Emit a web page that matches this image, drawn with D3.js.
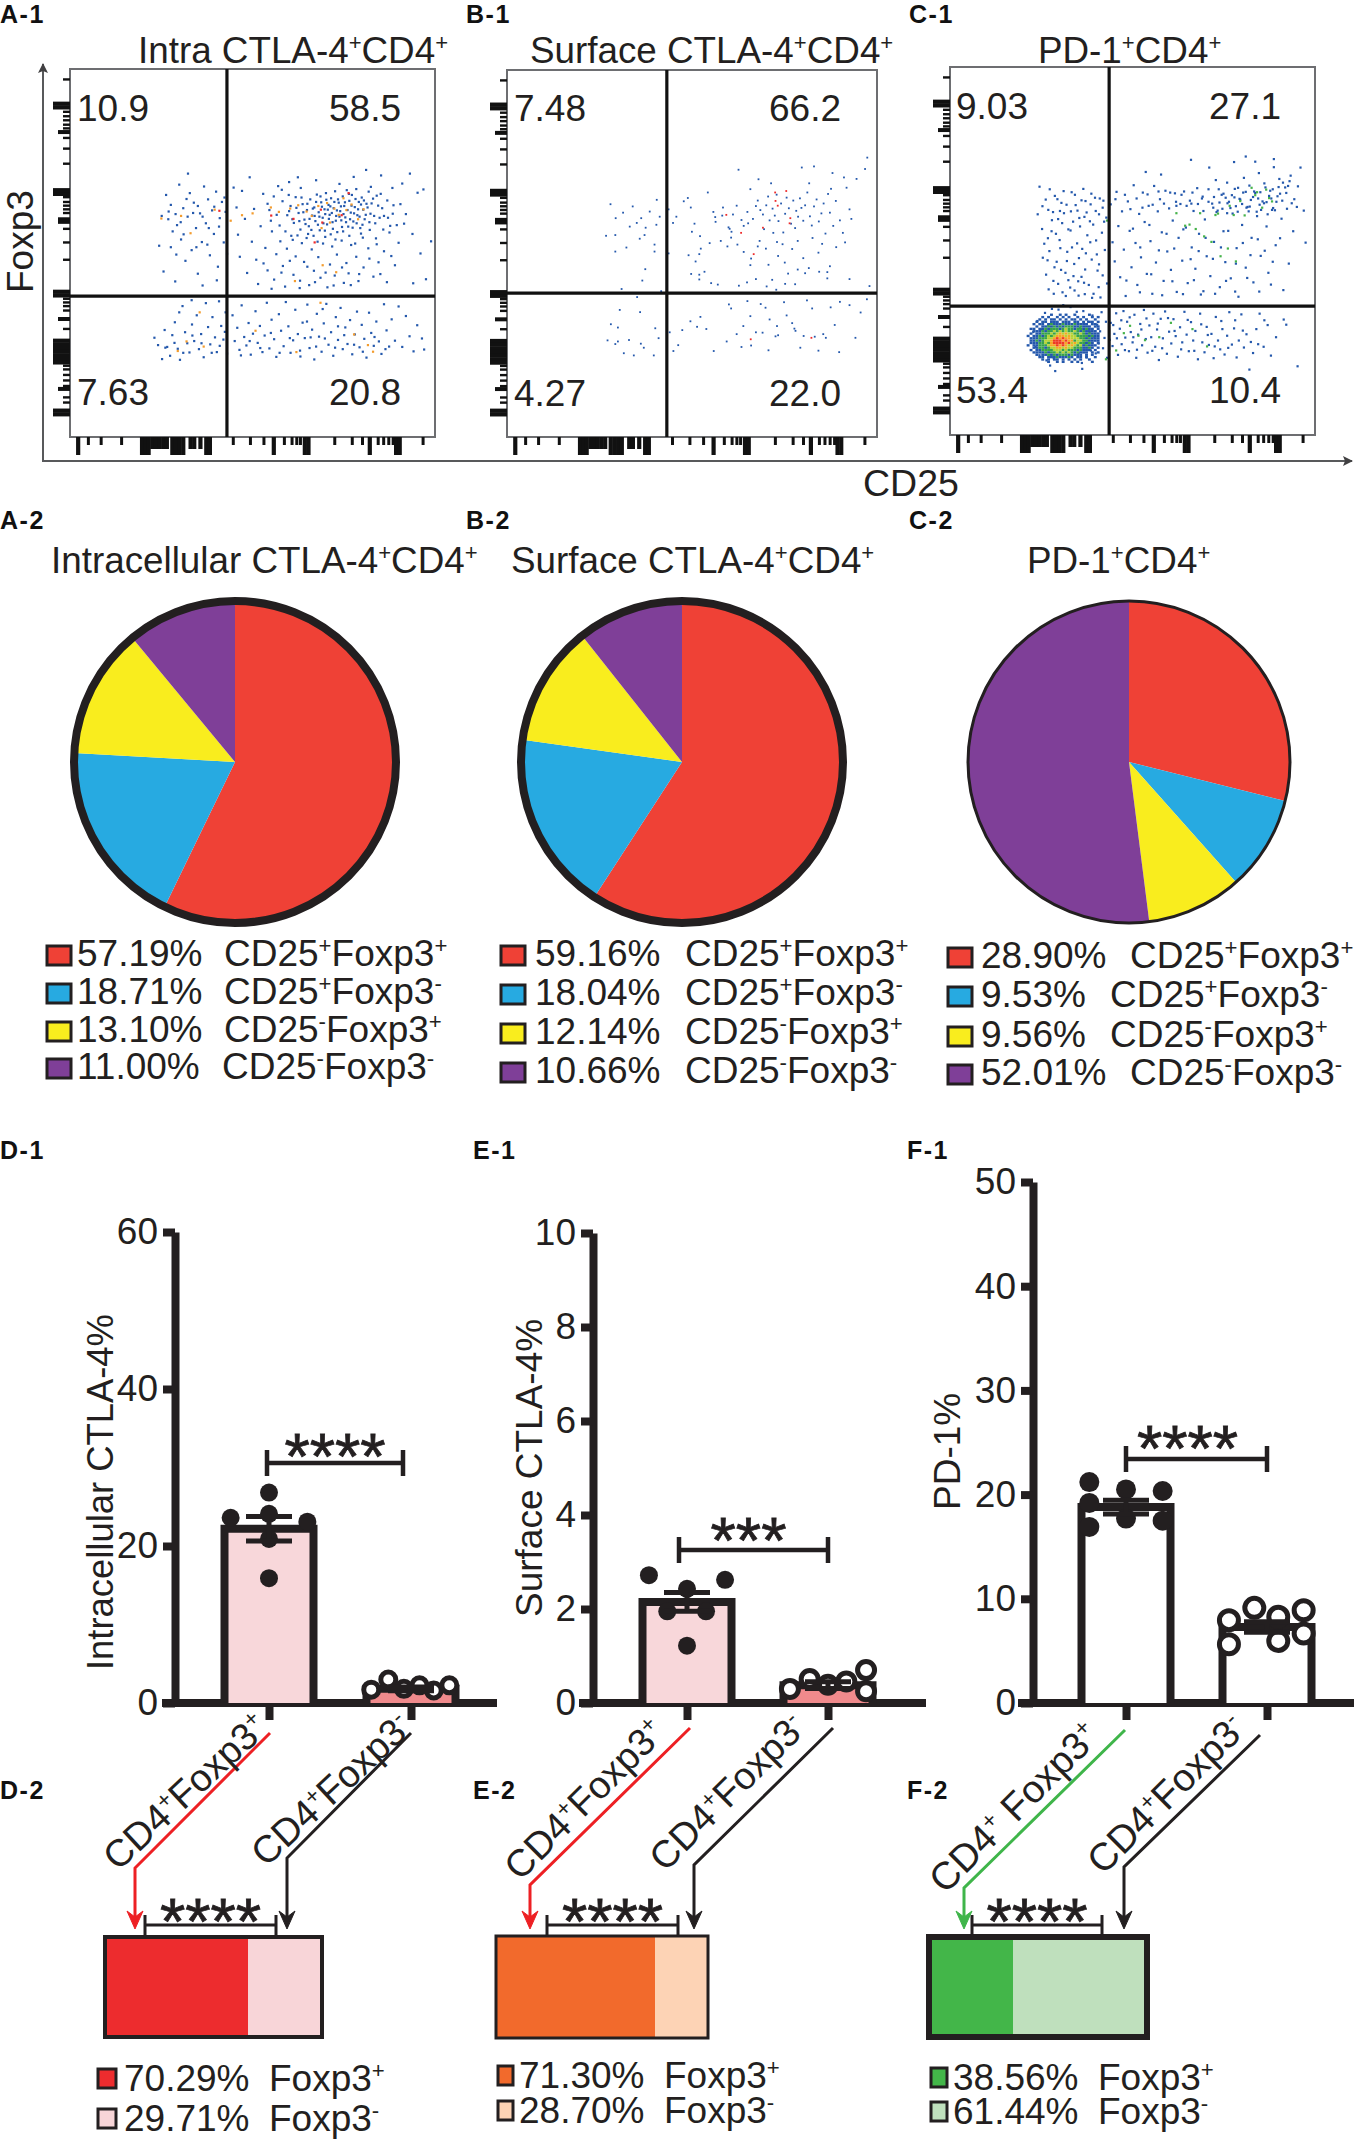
<!DOCTYPE html>
<html lang="en">
<head>
  <meta charset="UTF-8">
  <title>CTLA-4 and PD-1 in CD4 T cells</title>
  <script src="https://cdn.jsdelivr.net/npm/d3@7"></script>
  <style>
    html, body { margin: 0; padding: 0; background: #fff; }
    svg { display: block; }
    text { font-family: "Liberation Sans", Arial, sans-serif; fill: #231f20; }
    .panel-tag { font-weight: bold; font-size: 25px; letter-spacing: 1.5px; fill: #111; }
  </style>
</head>
<body>
  <svg id="figure" width="1358" height="2139"></svg>

  <script>
    // ---- flow plots: rug ticks along both axes (0-100 of the plot box)
    const rugXMajor = [2.1, 19.6, 20.6, 21.4, 27.9, 28.9, 29.9, 30.9, 37.2, 38.2, 55.7, 64.2, 65.2, 82, 89.2, 90.2];
    const rugXMid = [22.4, 23.4, 24.4, 25.4, 26.4, 32.9, 33.9, 35.6];
    const rugXMinor = [4.9, 8.4, 14, 44.6, 49.3, 53, 58.6, 60.7, 62, 63, 72.4, 77.2, 80, 84.3, 85.8, 87.2, 88.4, 96.6];
    const rugYMajor = [89.7, 90.7, 66.2, 67.2, 38.6, 39.6, 26.3, 25.3, 24.3, 23.3, 22.3, 21.3, 20.4, 6.3, 7.3];
    const rugYMid = [83, 59.3, 58.6, 32.2, 13.2];
    const rugYMinor = [97.3, 88.5, 87.3, 86.2, 85, 84, 81.4, 78.5, 74.4, 65.3, 64, 63, 62, 61, 56.7, 53, 48.3, 37.7, 36.7, 35.7, 34.5, 29.5, 19.5, 18.5, 17, 15.5, 14, 10.9, 9.5];

    const intraBlue = [
      [58.2,64.1],[59.5,60.3],[60.4,62.8],[61.3,58.2],[61.8,65.2],[62.6,60.9],[63.1,56.4],[63.7,63.3],[64.2,59.1],[64.9,61.7],[65.4,57.3],[65.8,64.6],[66.3,60.2],[66.9,62.4],[67.2,58.7],[67.6,65.9],[68.1,61.1],[68.4,56.2],[68.8,63.8],[69.2,59.6],[69.7,61.9],[70.1,66.3],[70.4,57.8],[70.8,63.1],[71.1,60.4],[71.5,64.9],[71.9,58.4],[72.2,62.2],[72.6,66.8],[72.9,60.1],[73.2,55.7],[73.6,63.7],[74,61.4],[74.3,58.9],[74.7,65.4],[75.1,62.8],[75.4,59.7],[75.8,67.1],[76.2,57.2],[76.5,64.2],[76.9,61],[77.2,65.8],[77.6,58.6],[78,62.5],[78.4,67.4],[78.7,60.3],[79.1,63.9],[79.5,56.8],[79.9,65.1],[80.3,61.8],[80.7,59.2],[81.2,63.4],[81.8,66.7],[82.3,60.7],[83,64.8],[83.6,58.1],[84.4,62.9],[85.1,66.1],[86,60.1],[86.9,64.3],[87.7,57.4],[88.6,63],
      [44.8,67.8],[45.6,62.4],[46,55],[46.5,49],[47.1,66.9],[47.9,59.3],[48.5,44.6],[49.2,70.6],[49.8,53.1],[50.4,62],[51,48.2],[51.5,41.6],[52.2,57.3],[52.9,66.1],[53.5,51.4],[54.1,45.3],[54.6,61.7],[55.3,55.9],[55.9,42.8],[56.5,49.7],[57,68.2],[57.6,53.2],[58.3,46.5],[58.9,40.9],[59.4,51.2],[60,69.3],[60.6,54.7],[61.2,44.1],[61.8,49.1],[62.4,70.6],[63,42.5],[63.5,52.7],[64.1,47.6],[64.8,54.1],[65.5,41.3],[66.2,51],[66.8,45.2],[67.4,69.8],[68,48.9],[68.6,43.3],[69.3,52.6],[69.9,54.4],[70.5,40.7],[71.2,46.9],[71.8,51.8],[72.5,43.9],[73.1,49.6],[73.8,68.8],[74.4,53.4],[75,41.9],[75.7,47.3],[76.3,44.5],[77,52.2],[77.7,70.7],[78.4,49],[79,42.4],[79.7,55.3],[80.4,46.1],[81.1,72.6],[81.7,51.3],[82.4,68],[83.1,43.6],[83.8,54],[84.5,47.5],[85.2,71.1],[86,50.5],[86.8,42.1],[87.5,55.6],[88.3,67.7],[89,46.7],[90,52.8],[91,68.9],[92,60.6],[93.1,71.6],[94,41.8],[95.2,66.4],[96,49.9],[97.5,42.9],[98.9,53.2],[96.8,67.3],[93.8,55.2],
      [24.4,52],[25.1,60.1],[25.6,45],[26.3,65.8],[26.9,59.2],[27.6,63.1],[28.1,55.9],[28.8,42.3],[29.3,57.6],[29.9,68.6],[30.4,53.7],[31,62.2],[31.6,47.9],[32.2,59.9],[32.8,66.3],[33.3,50.8],[33.9,63.7],[34.5,56.8],[35,44.4],[35.6,60.8],[36.1,53],[36.7,68.1],[37.2,58.1],[37.8,64.6],[38.3,49.4],[38.9,61.6],[39.4,55.2],[40,66.7],[40.5,46.3],[41,59.5],[41.6,63.9],[42.1,52.9],[42.6,61.2],[43,49.8],[32.3,71.6],[29.1,49.6],[36.3,41.2],[40.2,42.6],
      [23.1,27],[24.1,25],[25.2,21.2],[25.9,29.1],[26.6,24.5],[27.4,22.1],[28,27.7],[28.7,31.2],[29.5,24],[30.1,21],[30.8,35.6],[31.5,28.5],[32.1,25.5],[32.7,23],[33.4,30.6],[34,26.1],[34.7,33.1],[35.3,23.9],[35.9,28],[36.6,21.7],[37.2,36.4],[37.8,29.9],[38.4,25.2],[39,32.6],[39.7,27.1],[40.2,23.1],[40.8,36.9],[41.4,30.2],[42,26.5],[42.6,33.9],[43,22.7],[29.9,33.9],[33.3,37.2],
      [44.5,33.1],[45.1,26.1],[45.8,29.7],[46.4,23.7],[47,35.8],[47.7,27.2],[48.3,24.9],[48.9,31],[49.5,22.4],[50.1,28.1],[50.8,34.2],[51.4,25.6],[52,30.2],[52.7,23.1],[53.3,27.6],[53.9,36.5],[54.6,24.1],[55.2,31.9],[55.9,26.6],[56.5,21.8],[57.2,33.4],[57.8,28.9],[58.5,24.7],[59.1,36.7],[59.8,30.1],[60.4,22.9],[61.1,26.3],[61.7,34.6],[62.4,28],[63,23.5],[63.7,31.1],[64.3,26.9],[65,36],[65.6,24.2],[66.3,29.2],[66.9,21.1],[67.6,33.5],[68.2,27.3],[68.9,23.2],[69.5,30.9],[70.2,36.2],[70.8,25.1],[71.5,28.5],[72.1,22.1],[72.8,32.6],[73.4,26.4],[74.1,35.1],[74.7,23.9],[75.4,29.8],[76,25.3],[76.7,31.8],[77.3,22.5],[78,27.9],[78.6,34.1],[79.3,24.4],[79.9,30.5],[80.6,26.7],[81.2,21.6],[81.9,33.8],[82.5,28.3],[83.2,24.8],[83.9,31.4],[84.6,26],[85.3,22.6],[86,36.1],[86.7,29],[87.4,24.6],[88.1,32],[89,26.2],[90,35.5],[91,24.5],[92,32.9],[93,27.4],[94.1,23.3],[95.1,30.4],[96.4,26.8],[97,23.8]
    ];
    const intraBlueDense = [
      [60,61.4],[60.9,59.2],[62,62.3],[62.8,58.7],[63.4,65.1],[63.9,61.1],[64.5,57.9],[65,63.4],[65.6,59.3],[66.1,56.3],[66.5,62.1],[67,60.1],[67.4,63.9],[67.9,57.7],[68.3,59.9],[68.6,65.4],[69,62.6],[69.4,58.1],[69.9,60.6],[70.2,64.5],[70.6,61.8],[70.9,59.3],[71.3,62.7],[71.7,60.9],[72,56.6],[72.4,63.9],[72.8,58.8],[73.1,61.6],[73.4,64.6],[73.8,59.9],[74.2,62.7],[74.5,57.1],[74.9,60.6],[75.3,63.8],[75.6,58.4],[76,61.7],[76.4,66.1],[76.7,59.2],[77.1,62.9],[77.4,56.9],[77.8,60.8],[78.2,64.7],[78.5,58.1],[78.9,61.9],[79.3,59.9],[79.7,63.2],[80.1,57.7],[80.5,64.3],[81,60.4],[81.5,62.4],[82,58.4],[82.6,63.5],[83.3,60.1],[84,65.6],[84.8,59.6],[85.5,62.2],
      [54.1,63.4],[55,58.8],[55.8,65.4],[56.6,60.4],[57.4,57.5],[58,67.2],[59,55.9],[59.9,65.8],[61,53.6],[62.3,54.8],[63.2,67.7],[65.2,55.2],[66.7,54.7],[67.8,53.1],[69.8,56.1],[71.4,55.1],[72.7,53.7],[74.8,55.9],[76.5,54.7],[78.1,52.6],[80.2,54.2],[82.1,56.3],[84,52.4],[85.8,56.4],[87.1,59.6],[88.4,60.7],[89.5,57.6],[90.5,63.3],[91.5,58],[53,47.2],[55.2,40.3],[57.9,44.7],[60.2,47.9],[62.9,40.5],[65,46.3],[67.1,42.1],[70,44.7],[72.2,41.2],[74.5,46.1],[76.9,41.3],[79.2,44.3],[82,48.5],[85,44.3],[88,49.2],
      [27,61.3],[28.9,60.6],[30.3,58.4],[31.9,64.7],[33.7,60.9],[35,62.8],[36.3,59.9],[38,56.8],[39.5,62.6],[40.8,57.2],[42.3,65.1],[27.6,51.6],[31.1,55.1],[34.6,51.6],[37.6,52.3],[26.1,24.3],[28.6,25.6],[31,22.9],[33.5,27.6],[36,25.5],[38.8,22.9],[41,24.8],[42.4,28.6],[46.8,22.2],[49.2,26.1],[52.1,24.2],[55,28.3],[57.4,22.9],[60.2,26.9],[63.1,21.9],[65.9,27.1],[67.4,24.6],[69.8,26.8],[72.6,24.3],[75.1,27.7],[77.8,25.1],[80.2,23.2],[83.4,27.2],[86.4,23.9],[64.9,31.4],[69.2,34.8],[73.4,30.1]
    ];
    const intraOrange = [[25,59.4],[30.4,60.1],[33,55.4],[39.6,61.8],[44,58.8],[47.1,60.3],[50,60.8],[55,62.4],[57.2,61.2],[60.3,62.1],[62.5,63],[64.8,61.3],[66.2,60.1],[68,62.8],[68.9,56.8],[70.4,63.6],[71.2,58.3],[72.4,62.1],[73.6,60.4],[74.9,64.9],[75.7,61.7],[77.1,63.2],[78.9,59.2],[80.4,61.9],[69.2,46.7],[72.9,44.8],[61.6,42.4],[35.5,33.9],[31.9,26],[29.5,23.4],[36.6,24.6],[50.8,28.9],[62,23.1],[68.6,36.5],[77.8,27.9],[81.6,25],[83,23.2]];
    const intraRed = [[40.9,61.5],[55.1,60.2],[68.7,61.8],[69.1,58.3],[67,52.9],[76.3,66.3],[74.4,60.3],[61.2,59.3]];

    const surfaceBlue = [
      [28,63.4],[29.4,59.6],[26.8,54.8],[29.3,55],[29.3,50.5],[32.3,51.6],[33.2,57.3],[34,62.8],[36.3,59.6],[38.6,61.4],[40.5,64.6],[41.3,60],[40.4,57.8],[37.2,55],[35.9,54],[39.9,52.4],[39.9,50.5],[37.4,45.7],[36.6,42.6],[31,40.3],[41.7,39.7],[35.1,58.3],[37.5,57],[31.4,61.1],
      [43.7,62],[43.7,50],[45.8,60],[44.9,58.3],[47.8,64.2],[48.9,65.1],[49.7,62.5],[50.7,58.1],[52.4,51.3],[52,49.8],[53.4,45],[49.1,49.5],[51,47.8],[52,42.9],[54.3,66.6],[55.8,61.3],[56.3,59.9],[56.4,58.6],[58.2,60.3],[58.4,62.5],[59.9,57.1],[60.2,56.7],[60.7,55.9],[61.1,60.6],[62.1,63],[63.4,59.1],[64,57.5],[65,61.3],[65.2,58.2],[66.5,59.4],[67.3,62.9],[67.8,64.4],[68.5,61.8],[69.2,60.6],[69.5,56.6],[70.1,63.1],[70.6,65.5],[71,59],[71.8,62.2],[72.4,60.3],[72.9,66],[73.4,58.8],[74.1,63.6],[74.7,55.7],[75.2,60.8],[75.6,65.2],[76.2,62.3],[76.8,58.1],[77.4,64.4],[77.9,56.9],[78.2,61.6],[78.7,60],[79.2,65],[79.6,62.4],[80.1,58.9],[80.6,63.1],[81.2,66.6],[81.9,60.1],[82.4,57.6],[83,62.8],[83.7,64.7],[84.3,58.7],[85,60.9],[85.6,63.6],[86.1,55.4],[86.8,66.2],[87.3,61.1],[88.2,57.5],[88.9,64.3],[90,59],[90.8,55.6],[91.8,67.9],[92.6,62],[93.1,59.4],
      [62.6,72.8],[65.8,67.5],[68,70.2],[71.4,69.1],[79.7,73.4],[81.7,69.1],[83,73.7],[87.6,67.6],[91.1,70.7],[94.5,70.3],[88,71.9],[96.8,73],[100,68.4],[97.4,76.1],
      [50,55.9],[52.2,54.7],[54.8,52.8],[57.8,53.4],[59.6,51.9],[60.6,54.3],[62.3,52.4],[64,50.4],[65.8,46.8],[66,48.6],[67.8,51.9],[68.3,53.4],[70,51.3],[70.7,46.9],[72,55.6],[73,53.1],[73.3,49.3],[74.5,52.5],[75.1,47.5],[76,44.5],[77.1,51.2],[78.6,53.4],[80.1,48.7],[81.6,46],[82.6,54.2],[84.2,50.2],[85.2,52.6],[86.6,44.9],[87.3,46.5],[89,51.7],[91.4,53],[92.6,43],
      [49.8,44.4],[52,44.2],[55.2,41.9],[57,41.5],[62.7,41.2],[64.9,42.1],[67.3,43],[70.2,41],[71.7,42.8],[72.8,40.1],[75.2,41.7],[77.9,41.6],[78.6,45.6],[80.6,44.6],[84.4,45],[86.6,43.2],[98,41.1],
      [35.2,38.1],[36,34],[30.5,34.6],[30,29.8],[28.1,30.7],[33,26.4],[30,26],[27.2,26.3],[29.3,25.3],[36.2,25.4],[31.6,22.8],[34.3,22.2],[39.7,22.2],[40.1,29.6],[41,26.9],[37,24.3],
      [44,28.5],[45,23.4],[46.3,25],[47.4,29.1],[49.6,31.5],[51.4,30],[52.3,32.7],[53.9,29.4],[55.9,23.4],[59.4,26],[60,36.1],[60.6,35],[62.1,28],[63.4,24.5],[63.9,30.2],[65,37],[65.8,32.9],[66,24.9],[67.3,28.5],[68.6,36.2],[69.1,28.4],[69.9,35.2],[70.7,23.6],[71,32],[72.6,27.4],[73,30.2],[73.3,27.7],[74.9,36.7],[75.6,33.1],[77.1,31],[77.7,29.5],[78,28.9],[79.3,24.3],[80.2,27.5],[81.1,37.2],[82.5,35],[83.2,27.3],[84.2,23.5],[85.5,28],[86.2,27],[87.5,35.3],[88.6,30.5],[89.8,23.1],[90,36.8],[92.6,35.9],[94.2,27],[95.6,33.9],[97.3,37.5]
    ];
    const surfaceRed = [[72.5,66.6],[72.6,64.3],[73.2,63],[75.5,67],[76.6,59.6],[63.3,55.6],[69.2,57],[66.7,49.8],[65.9,26.6],[82.3,27],[59.3,60.5],[76.4,58.2]];

    const pdBlue = [
      [24,60],[24.5,67.5],[25.2,56],[25.8,52],[26.3,43.6],[26.9,61.2],[27.2,50],[27.8,55.4],[28.3,41.9],[28.7,65],[29.2,47.1],[29.6,58.7],[30,53],[30.5,63.1],[30.8,38.8],[31.2,60.3],[31.6,44.1],[32.1,49.8],[32.4,55.9],[32.9,40.1],[33.3,66],[33.7,58],[34,46.5],[34.4,62.5],[34.8,52.1],[35.2,37.9],[35.6,56.7],[36,43],[36.5,66.9],[36.8,59.3],[37.2,49.4],[37.6,54.3],[38,40.8],[38.5,62.7],[38.8,47.7],[39.2,57.2],[39.7,64.5],[40,52.9],[40.4,44.7],[40.8,60],[41.2,37.4],[41.6,55],[42,63.7],[42.4,50.3],[42.8,59.1],[43,41.2],[26.2,64],[27.9,58.4],[29,54.7],[30.1,60.9],[31.1,66.3],[32.4,42.1],[33.4,51],[34.9,61],[36.2,50.6],[37.1,63.6],[38.3,58.1],[40.8,46.4],[41.8,61.8],[35.1,41.8],[28.4,38.4],[30.4,44.9],[26.7,47.5],[33,55.6],[39.3,38.4],[36.9,38.3],
      [44,62.7],[44.5,52.4],[45.1,47.2],[45.6,66.1],[46.1,56.8],[46.6,42.9],[47.1,60.8],[47.6,50.4],[48.1,37.8],[48.7,63.5],[49.2,55.5],[49.7,45.6],[50.3,67.9],[50.8,52.2],[51.3,40.8],[51.8,60.1],[52.3,48.3],[52.8,65.9],[53.3,57.9],[53.9,43.8],[54.4,62.3],[54.9,52.7],[55.4,38.4],[55.9,67.7],[56.4,46.9],[56.9,60.8],[57.5,64.1],[58,55.1],[58.5,41.9],[59,66.4],[59.5,49.9],[60,61.6],[60.5,44.9],[61,58.3],[61.6,65.7],[62.1,38.9],[62.6,53.6],[63.1,62.8],[63.6,47.4],[64.1,66.2],[64.6,56.4],[65.1,41.3],[65.7,63.7],[66.2,51],[66.7,60.9],[67.2,45.2],[67.7,67.1],[68.2,54.7],[68.7,38.2],[69.2,64.8],[69.8,58.6],[70.3,48.6],[70.8,66.8],[71.3,43.2],[71.8,62.9],[72.3,52.5],[72.8,69.3],[73.3,61],[73.9,40.2],[74.4,65.3],[74.9,55.4],[75.4,47],[75.9,68.6],[76.4,63.4],[76.9,42.6],[77.4,60.2],[78,66.9],[78.5,50.8],[79,37.6],[79.5,64],[80,57.1],[80.5,69.9],[81,45.5],[81.5,62],[82,67.8],[82.6,53.6],[83.1,41.5],[83.6,65.8],[84.1,59.5],[84.6,71.2],[85.1,48.7],[85.6,63.5],[86.1,68.4],[86.7,56.7],[87.2,44.1],[87.7,66.4],[88.2,61.2],[88.7,72.8],[89.2,51.6],[89.7,64.9],[90.2,69.6],[90.8,58.8],[91.3,39.4],[91.8,67.3],[92.3,61.5],[92.8,46.6],[93.3,70.5],[94.3,64.1],[95.3,67.6],[96,72.7],[96.9,61],[97.4,52.3],[94,55.4],[77.8,74.2],[66,74.8],[53.6,71.5],[71,72.7],[83.6,74.3],[88.7,75],[81,75.7],[57.8,70.8],
      [62,62.3],[66.1,62.9],[69,64.3],[72.3,64.7],[73.8,63.2],[74.9,65.6],[76,63],[77.2,65.2],[78.3,62.2],[79.3,64.2],[80.3,65.9],[81.2,61.8],[82.4,63.9],[83.3,66.2],[84.4,64.3],[85.2,61.2],[86.4,67.3],[87.4,65],[88.4,66.8],[89.4,63.4],[90.4,65.6],[91.2,68.6],[92.1,65.8],[93,69],[73,60.6],[75.9,60.3],[78.8,60.7],[81.8,60.8],[84.8,62.6],[86.7,63.3],[88.5,61.7],
      [22.8,28],[23.4,24],[23.9,31],[24.5,21.7],[25,28.7],[25.5,25.2],[26,33.2],[26.4,20.3],[26.9,30],[27.4,18.9],[27.9,34.3],[28.4,20.9],[34.7,33.5],[35.2,22.3],[35.6,29],[36.1,19.6],[36.5,33.7],[36.9,25],[37.4,21.1],[37.8,30.8],[38.2,27.9],[38.6,23],[39,32.5],[39.5,26.8],[39.9,22.2],[40.3,30],[40.7,24.9],[41.1,28.2],[41.5,33.4],[41.9,23.6],[42.3,26.4],[42.7,30.8],[43,21],[31,35.3],[33,34.8],[29.7,34.1],[36.2,18],[28.8,17.4],
      [44,30.5],[44.5,24.2],[45,27.5],[45.5,33.1],[46,21.8],[46.5,28.9],[47,24.7],[47.5,33.7],[48,26.5],[48.5,30.8],[49,22.8],[49.5,28],[50,25.2],[50.5,32.7],[51,21],[51.5,27.3],[52.1,30.2],[52.6,24.4],[53.1,34],[53.6,26.1],[54.1,22.4],[54.6,29.8],[55.1,26.6],[55.7,33],[56.2,24],[56.7,28.7],[57.2,20.4],[57.7,31.6],[58.3,26.3],[58.9,33.6],[59.4,22.1],[60,28.1],[60.6,24.9],[61.2,31.5],[61.8,26.9],[62.4,21.3],[63,29.3],[63.6,25.2],[64.2,33.5],[64.8,27.3],[65.4,22.8],[66,30.7],[66.6,25.7],[67.2,28.3],[67.9,20.6],[68.5,33],[69.1,25.2],[69.7,22.5],[70.3,29.4],[70.9,24.5],[71.6,27.5],[72.2,20.9],[72.8,32.1],[73.4,25.7],[74,23.3],[74.6,28.8],[75.2,21.9],[75.9,27],[76.5,33.4],[77.2,24.6],[77.8,29],[78.5,21.1],[79.1,25.7],[79.8,32.8],[80.5,23.8],[81.2,27.4],[82,17.8],[83,22.3],[83.9,28.8],[84.8,33],[85.9,24],[87,29.9],[87.9,21.6],[89.3,26.6],[91.4,31.4],[92.1,30],[95.2,18.7]
    ];
    const pdBlueDense = [
      [25.3,62.2],[27.3,66.8],[28.2,60.6],[29.4,64.1],[30.7,57.6],[31.9,62.6],[33.1,60.8],[34.2,65.3],[35.4,59],[36,63.8],[37.4,60.5],[38.7,65.6],[39.9,60.9],[41,64.3],[42.2,58],[25.4,48.2],[26.8,53.5],[28.6,45.6],[30.2,50.8],[32,47.3],[33.8,43.2],[35.3,48.1],[37,45],[38.4,52.4],[40.2,49.1],[41.8,43.4],[27,39.6],[29.6,41.1],[31.7,37.8],[34.1,39.3],[36.7,41.4],[38.9,37.3],[40.7,40.2],
      [45.3,64.1],[47.9,65.3],[49.4,61.4],[51.1,64.3],[52.7,61.8],[54.1,65.4],[55.5,62.6],[57.1,66.2],[58.6,62.9],[60.3,65.9],[61.9,63.4],[63.4,65.3],[64.8,62.3],[66.4,65.9],[67.9,62.8],[69.4,60.9],[70.8,63.4],[72.1,61.8],[73.6,66.8],[74.6,61.5],[75.5,64.5],[76.8,61.7],[77.9,64.6],[78.9,67.2],[80,62.8],[81,66.1],[82.1,62.1],[83,64.7],[84,60.7],[85,66],[86,63],[87,60],[88,64.3],[89,61.1],[90,67.4],[91,63.7],[92.6,67.7],[93.6,63],[95,62],[50.1,56.1],[52.1,51],[54.6,57.1],[57.2,50.2],[59.3,54.7],[61.4,50.7],[63.9,55.9],[65.9,47.8],[68.1,50],[70,53.6],[72,47.9],[74.2,51],[76.2,55.5],[78.3,46.6],[80.2,52.2],[82.3,48.9],[84.3,53.2],[86.2,50.1],[88.4,47.1],[90.4,53.5],[48.3,42],[52,38.8],[55.1,43.7],[58.1,38],[60.9,41.8],[63.8,38.3],[66.8,42.1],[69.4,39.1],[72.6,38.4],[75.6,41.9],[78.1,39],[81.4,42.7],[84.7,39],[87.9,40.9],
      [43.7,25.9],[44.7,29.9],[45.7,26.3],[46.9,31.2],[47.9,23.1],[49.2,32],[50.2,26.6],[51.2,23.2],[52.4,28.7],[53.8,31.7],[55.4,22.9],[56.9,30.3],[58.1,23.6],[59.7,31.8],[61.5,28.3],[63.3,23.3],[65.1,31.3],[66.9,22.9],[68.8,30.1],[70.6,27.2],[72.5,24.1],[74.3,31],[76.2,23.7],[78.1,31.2],[80.2,28.4],[82.4,25.3],[84.4,24.7],[86.1,31.2]
    ];
    const pdGreen = [[62,60.3],[64.4,56.9],[65.6,57.2],[67.3,56],[68.5,60.3],[69.6,54],[71.6,52.5],[72.7,59.8],[73.4,60.2],[76.6,62.3],[77.7,59.8],[79.5,63.6],[80.7,59.7],[82.6,67.2],[83.6,65.2],[84.1,66],[85.5,61.8],[86.6,66.7],[87.4,64.4],[88.2,63.5],[76.1,50.7],[78.3,47.2],[74.1,48.6],[43,58.3],[42.7,20.6],[47.6,27.7],[49.3,29.7],[51.6,27],[53.4,25.8],[57.3,26.6],[60.5,30.5],[66.4,28.8],[70.4,24.1],[45.5,23]];
    // density levels on a 0.8 step grid around the low/low population (x from 21, y from 33 down)
    const pdHotRows = [
      "0000000010010100100001000",
      "0000010100101010010100101",
      "0000101011010101101010010",
      "0001011011101110110101101",
      "0010110121112111211110110",
      "0001011212121222112111011",
      "0110112122212322122121101",
      "0011121223232322321211110",
      "0101122232343433223212111",
      "1011212323444343322221211",
      "0111222334545443332212111",
      "0112123345554544233221111",
      "0111223245555453432212101",
      "1011222344545434323121110",
      "0011221233443433222112101",
      "0101122223332322212111010",
      "0011112122323232121110101",
      "0001011212122212111010100",
      "0000110111211121011010010",
      "0000010101101010101001000",
      "0000000100101001010000100"
    ];

    // ---- quadrant percentages
    const intraQuadrants = ["10.9", "58.5", "7.63", "20.8"];
    const surfaceQuadrants = ["7.48", "66.2", "4.27", "22.0"];
    const pdQuadrants = ["9.03", "27.1", "53.4", "10.4"];

    // ---- pies
    const pieSubsets = ["CD25^+Foxp3^+", "CD25^+Foxp3^-", "CD25^-Foxp3^+", "CD25^-Foxp3^-"];
    const intraPie = [57.19, 18.71, 13.10, 11.00];
    const surfacePie = [59.16, 18.04, 12.14, 10.66];
    const pdPie = [28.90, 9.53, 9.56, 52.01];
    const pieColors = ["#ef4136", "#27aae1", "#f9ed1e", "#7f3f98"];

    // ---- bars: mean, sem, points (value and sideways offset in bar units)
    const intraPosMean = 22.2, intraPosSem = 1.55;
    const intraPosPoints = [26.8, 23.6, 24.1, 23.1, 20.9, 15.9];
    const intraPosOffsets = [0, -0.27, 0, 0.27, 0, 0];
    const intraNegMean = 1.8, intraNegSem = 0.25;
    const intraNegPoints = [1.7, 3, 1.8, 2.25, 1.6, 2.25];
    const intraNegOffsets = [-0.28, -0.16, -0.05, 0.06, 0.16, 0.27];

    const surfacePosMean = 2.15, surfacePosSem = 0.2;
    const surfacePosPoints = [2.72, 2.43, 2.62, 1.95, 1.95, 1.22];
    const surfacePosOffsets = [-0.27, 0, 0.27, -0.14, 0.135, 0];
    const surfaceNegMean = 0.38, surfaceNegSem = 0.07;
    const surfaceNegPoints = [0.3, 0.51, 0.39, 0.46, 0.7, 0.25];
    const surfaceNegOffsets = [-0.27, -0.13, 0, 0.13, 0.27, 0.27];

    const pdPosMean = 18.8, pdPosSem = 0.65;
    const pdPosPoints = [21.2, 19.2, 16.9, 20.5, 17.7, 20.35, 17.5];
    const pdPosOffsets = [-0.26, -0.26, -0.26, 0, 0, 0.26, 0.26];
    const pdNegMean = 7.3, pdNegSem = 0.5;
    const pdNegPoints = [7.95, 5.64, 9.13, 8.27, 5.96, 8.9, 6.67];
    const pdNegOffsets = [-0.27, -0.27, -0.09, 0.08, 0.08, 0.26, 0.26];

    // ---- stacked strips: share of the strip as drawn, and the printed labels
    const intraStack = [66, 34];
    const surfaceStack = [75, 25];
    const pdStack = [38.7, 61.3];
    const intraStackLabels = ["70.29%", "29.71%"];
    const surfaceStackLabels = ["71.30%", "28.70%"];
    const pdStackLabels = ["38.56%", "61.44%"];
    const foxp3Labels = ["Foxp3^+", "Foxp3^-"];

    const ink = "#231f20";
    const svg = d3.select("#figure");

    // text with ^x superscripts, written as tspans
    function richText(parent, x, y, str, { size = 36.8, anchor = "start", rotate = 0 } = {}) {
      const t = parent.append("text")
        .attr("font-size", size)
        .attr("text-anchor", anchor)
        .attr("transform", `translate(${x},${y}) rotate(${rotate})`);
      const lift = size * 0.36;
      let back = 0;
      str.split(/(\^.)/).filter(s => s).forEach(part => {
        if (part[0] === "^") {
          t.append("tspan").attr("dy", -lift - back).attr("font-size", size * 0.6).text(part[1]);
          back = -lift;
        } else {
          t.append("tspan").attr("dy", -back).text(part);
          back = 0;
        }
      });
      return t;
    }

    function panelTag(x, y, label) {
      svg.append("text").attr("class", "panel-tag").attr("x", x).attr("y", y).text(label);
    }

    function stars(x, y, label) {
      svg.append("text").attr("x", x).attr("y", y)
        .attr("text-anchor", "middle").attr("font-size", 65).attr("fill", ink)
        .attr("stroke", ink).attr("stroke-width", 0.8).text(label);
    }

    // ---- flow cytometry panels
    function flowPanel(cfg) {
      const g = svg.append("g");
      const x = d3.scaleLinear([0, 100], [cfg.box[0], cfg.box[2]]);
      const y = d3.scaleLinear([0, 100], [cfg.box[3], cfg.box[1]]);

      const dots = (list, color) => g.append("g").attr("fill", color)
        .selectAll("rect").data(list).join("rect")
        .attr("x", d => x(d[0]) - 1).attr("y", d => y(d[1]) - 1)
        .attr("width", cfg.dot).attr("height", cfg.dot);

      dots(cfg.blue, "#2458ac");
      if (cfg.green) dots(cfg.green, "#46b34a");
      if (cfg.orange) dots(cfg.orange, "#f39c2e");
      if (cfg.red) dots(cfg.red, "#ee2b2b");

      if (cfg.hot) {
        const step = 0.8;
        const color = d3.scaleOrdinal([1, 2, 3, 4, 5], ["#2458ac", "#37a24a", "#b5d334", "#f6a623", "#ee3b24"]);
        const cells = cfg.hot.flatMap((row, r) => row.split("").map((c, i) => ({
          vx: 21 + i * step, vy: 33 - r * step * 0.8, level: +c
        }))).filter(c => c.level > 0);
        g.append("g").selectAll("rect").data(cells).join("rect")
          .attr("x", d => x(d.vx)).attr("y", d => y(d.vy))
          .attr("width", x(step) - x(0)).attr("height", y(0) - y(step * 0.8))
          .attr("fill", d => color(d.level));
      }

      g.append("rect")
        .attr("x", x(0)).attr("y", y(100))
        .attr("width", x(100) - x(0)).attr("height", y(0) - y(100))
        .attr("fill", "none").attr("stroke", "#6d6e71").attr("stroke-width", 2);

      const rug = (axis, values, size, width, at) => {
        const a = g.append("g").attr("transform", at)
          .call(axis.tickValues(values).tickSize(size).tickFormat(""));
        a.select(".domain").remove();
        a.selectAll("line").attr("stroke", "#111").attr("stroke-width", width);
      };
      const bottom = `translate(0,${y(0)})`, left = `translate(${x(0)},0)`;
      rug(d3.axisBottom(x), rugXMajor, 18, 4.2, bottom);
      rug(d3.axisBottom(x), rugXMid, 12, 4.2, bottom);
      rug(d3.axisBottom(x), rugXMinor, 8, 3, bottom);
      rug(d3.axisLeft(y), rugYMajor, 17, 4.2, left);
      rug(d3.axisLeft(y), rugYMid, 12, 4, left);
      rug(d3.axisLeft(y), rugYMinor, 7, 2.4, left);

      g.append("line").attr("x1", x(cfg.gate[0])).attr("x2", x(cfg.gate[0]))
        .attr("y1", y(0)).attr("y2", y(100)).attr("stroke", "#111").attr("stroke-width", 3.2);
      g.append("line").attr("x1", x(0)).attr("x2", x(100))
        .attr("y1", y(cfg.gate[1])).attr("y2", y(cfg.gate[1])).attr("stroke", "#111").attr("stroke-width", 3.2);

      cfg.quadrants.forEach((label, i) => {
        g.append("text").attr("font-size", 37).attr("fill", "#111")
          .attr("x", cfg.labelX[i % 2]).attr("y", cfg.labelY[i < 2 ? 0 : 1]).text(label);
      });
      richText(g, cfg.titleAt[0], cfg.titleAt[1], cfg.title);
    }

    // ---- pie panels
    function piePanel(cfg) {
      const g = svg.append("g").attr("transform", `translate(${cfg.center})`);
      const pie = d3.pie().sort(null)(cfg.values);
      const arc = d3.arc().innerRadius(0).outerRadius(cfg.r);
      g.selectAll("path").data(pie).join("path")
        .attr("d", arc).attr("fill", (d, i) => pieColors[i]);
      g.append("circle").attr("r", cfg.r).attr("fill", "none")
        .attr("stroke", ink).attr("stroke-width", cfg.ring);

      cfg.values.forEach((v, i) => {
        const base = cfg.rows[i];
        svg.append("rect").attr("x", cfg.swatchX).attr("y", base - 20)
          .attr("width", 24).attr("height", 19)
          .attr("fill", pieColors[i]).attr("stroke", ink).attr("stroke-width", 3);
        svg.append("text").attr("x", cfg.textX).attr("y", base).attr("font-size", 37)
          .text(v.toFixed(2) + "%");
        richText(svg, cfg.subsetX[i], base, pieSubsets[i], { size: 37 });
      });
    }

    // ---- bar panels
    function barPanel(cfg) {
      const g = svg.append("g");
      const x = d3.scaleLinear([0, 1], cfg.barAt);
      const y = d3.scaleLinear([0, cfg.top], [1703, cfg.topY]);

      const yAxis = g.append("g").attr("transform", `translate(${cfg.axisX},0)`)
        .call(d3.axisLeft(y).tickValues(cfg.ticks).tickSize(12).tickPadding(5).tickSizeOuter(0));
      yAxis.selectAll("line").attr("stroke", ink).attr("stroke-width", 8);
      yAxis.select(".domain").attr("stroke", ink).attr("stroke-width", 8);
      yAxis.selectAll("text").attr("font-size", 37).attr("font-family", "Liberation Sans").attr("fill", ink);

      const xAxis = g.append("g").attr("transform", "translate(0,1703)")
        .call(d3.axisBottom(x).tickValues([0, 1]).tickSize(17).tickFormat("").tickSizeOuter(0));
      xAxis.select(".domain").remove();
      xAxis.selectAll("line").attr("stroke", ink).attr("stroke-width", 8);
      g.append("line").attr("x1", cfg.baseline[0]).attr("x2", cfg.baseline[1])
        .attr("y1", y(0)).attr("y2", y(0)).attr("stroke", ink).attr("stroke-width", 8);

      cfg.bars.forEach((bar, i) => {
        const cx = x(i);
        g.append("path")
          .attr("d", `M${cx - 44.5},${y(0)}V${y(bar.mean)}H${cx + 44.5}V${y(0)}`)
          .attr("fill", cfg.fills[i]).attr("stroke", ink).attr("stroke-width", 8);

        g.selectAll(null).data(bar.points).join("circle")
          .attr("cx", (d, k) => x(i + bar.offsets[k])).attr("cy", d => y(d))
          .attr("r", i === 0 ? cfg.dotR : cfg.openR)
          .attr("fill", i === 0 ? ink : "#fff")
          .attr("stroke", ink).attr("stroke-width", i === 0 ? 0 : 5);

        const hi = y(bar.mean + bar.sem), lo = y(bar.mean - bar.sem);
        g.append("path")
          .attr("d", `M${cx},${hi}V${lo}M${cx - 23},${hi}H${cx + 23}M${cx - 23},${lo}H${cx + 23}`)
          .attr("fill", "none").attr("stroke", ink).attr("stroke-width", 5);
      });

      // significance bracket
      const [bx1, bx2, by] = cfg.bracket;
      g.append("path")
        .attr("d", `M${bx1},${by - 13}V${by + 13}M${bx1},${by}H${bx2}M${bx2},${by - 13}V${by + 13}`)
        .attr("fill", "none").attr("stroke", ink).attr("stroke-width", 4.5);
      stars((bx1 + bx2) / 2 - (cfg.starShift || 0), by + cfg.starDrop, cfg.stars);

      g.append("text").attr("font-size", cfg.titleSize)
        .attr("transform", `translate(${cfg.titleAt}) rotate(-90)`).text(cfg.title);
    }

    // ---- stacked strip panels with leader arrows
    function arrow(points, color) {
      const [a, b, c] = points;
      svg.append("path").attr("d", `M${a}L${b}L${c[0]},${c[1] - 8}`)
        .attr("fill", "none").attr("stroke", color).attr("stroke-width", 3);
      svg.append("path")
        .attr("d", `M${c[0]},${c[1]}L${c[0] - 8},${c[1] - 18}L${c[0]},${c[1] - 12}L${c[0] + 8},${c[1] - 18}Z`)
        .attr("fill", color).attr("stroke", color);
    }

    function stackPanel(cfg) {
      const [x0, y0, x1, y1] = cfg.box;
      const x = d3.scaleLinear([0, 100], [x0, x1]);
      const stack = d3.stack().keys([0, 1])([cfg.shares]);
      svg.append("g").selectAll("rect").data(stack).join("rect")
        .attr("x", d => x(d[0][0])).attr("width", d => x(d[0][1]) - x(d[0][0]))
        .attr("y", y0).attr("height", y1 - y0)
        .attr("fill", (d, i) => cfg.fills[i]);
      svg.append("rect").attr("x", x0).attr("y", y0).attr("width", x1 - x0).attr("height", y1 - y0)
        .attr("fill", "none").attr("stroke", ink).attr("stroke-width", cfg.frame);

      const [bx1, bx2] = cfg.bracket;
      svg.append("path")
        .attr("d", `M${bx1},1915V${y0}M${bx1},1925H${bx2}M${bx2},1915V${y0}`)
        .attr("fill", "none").attr("stroke", ink).attr("stroke-width", 3);
      stars((bx1 + bx2) / 2, 1944, "****");

      arrow(cfg.leftArrow, cfg.arrowColor);
      arrow(cfg.rightArrow, ink);
      richText(svg, cfg.leftLabel[0], cfg.leftLabel[1], cfg.leftText, { rotate: cfg.angle, size: cfg.labelSize });
      richText(svg, cfg.rightLabel[0], cfg.rightLabel[1], "CD4^+Foxp3^-", { rotate: cfg.angle, size: cfg.labelSize });

      cfg.labels.forEach((label, i) => {
        const base = cfg.legendY[i];
        svg.append("rect").attr("x", cfg.swatch[0]).attr("y", base - 22)
          .attr("width", cfg.swatch[1]).attr("height", 19)
          .attr("fill", cfg.fills[i]).attr("stroke", ink).attr("stroke-width", 3);
        svg.append("text").attr("x", cfg.legendX[0]).attr("y", base).attr("font-size", 37).text(label);
        richText(svg, cfg.legendX[1], base, foxp3Labels[i], { size: 37 });
      });
    }

    // ---- top row
    panelTag(0, 23, "A-1");
    panelTag(466, 23, "B-1");
    panelTag(909, 23, "C-1");

    flowPanel({
      box: [70, 69, 435, 437], gate: [43, 38.3], dot: 2.2,
      blue: intraBlue.concat(intraBlueDense), orange: intraOrange, red: intraRed,
      quadrants: intraQuadrants, labelX: [77, 329], labelY: [121, 405],
      title: "Intra CTLA-4^+CD4^+", titleAt: [138, 63]
    });
    flowPanel({
      box: [507, 70, 877, 437], gate: [43.2, 39.2], dot: 1.8,
      blue: surfaceBlue, red: surfaceRed,
      quadrants: surfaceQuadrants, labelX: [514, 769], labelY: [121, 406],
      title: "Surface CTLA-4^+CD4^+", titleAt: [530, 63]
    });
    flowPanel({
      box: [950, 67, 1315, 435], gate: [43.6, 35], dot: 2.2,
      blue: pdBlue.concat(pdBlueDense), green: pdGreen, hot: pdHotRows,
      quadrants: pdQuadrants, labelX: [956, 1209], labelY: [119, 403],
      title: "PD-1^+CD4^+", titleAt: [1038, 63]
    });

    // shared Foxp3 / CD25 axes of the top row
    const defs = svg.append("defs");
    defs.append("marker").attr("id", "tip").attr("viewBox", "0 -5 10 10").attr("refX", 9)
      .attr("markerWidth", 5).attr("markerHeight", 5).attr("orient", "auto-start-reverse")
      .append("path").attr("d", "M0,-5L10,0L0,5L2,0Z").attr("fill", "#414042");
    svg.append("path").attr("d", "M43,64V461H1352").attr("fill", "none")
      .attr("stroke", "#58595b").attr("stroke-width", 2)
      .attr("marker-start", "url(#tip)").attr("marker-end", "url(#tip)");
    svg.append("text").attr("font-size", 37)
      .attr("transform", "translate(33,293) rotate(-90)").text("Foxp3");
    svg.append("text").attr("font-size", 37.5).attr("x", 863).attr("y", 496).text("CD25");

    // ---- pies
    panelTag(0, 529, "A-2");
    panelTag(466, 529, "B-2");
    panelTag(909, 529, "C-2");
    richText(svg, 51, 573, "Intracellular CTLA-4^+CD4^+");
    richText(svg, 511, 573, "Surface CTLA-4^+CD4^+");
    richText(svg, 1027, 573, "PD-1^+CD4^+");

    piePanel({
      center: [235, 762], r: 161, ring: 8, values: intraPie,
      rows: [966, 1004, 1042, 1079], swatchX: 47, textX: 77, subsetX: [224, 224, 224, 222]
    });
    piePanel({
      center: [682, 762], r: 161, ring: 8, values: surfacePie,
      rows: [966, 1005, 1044, 1083], swatchX: 501, textX: 535, subsetX: [685, 685, 685, 685]
    });
    piePanel({
      center: [1129, 762], r: 161, ring: 3, values: pdPie,
      rows: [968, 1007, 1047, 1085], swatchX: 948, textX: 981, subsetX: [1130, 1110, 1110, 1130]
    });

    // ---- bars
    panelTag(0, 1159, "D-1");
    panelTag(473, 1159, "E-1");
    panelTag(907, 1159, "F-1");

    barPanel({
      axisX: 175, top: 60, topY: 1232, ticks: [0, 20, 40, 60], barAt: [269, 411], baseline: [162, 497],
      fills: ["#f8d7da", "#f08a8c"], dotR: 9, openR: 7.5,
      bars: [
        { mean: intraPosMean, sem: intraPosSem, points: intraPosPoints, offsets: intraPosOffsets },
        { mean: intraNegMean, sem: intraNegSem, points: intraNegPoints, offsets: intraNegOffsets }
      ],
      bracket: [267, 403, 1463], stars: "****", starDrop: 16,
      title: "Intracellular CTLA-4%", titleAt: [113, 1670], titleSize: 36.4
    });
    barPanel({
      axisX: 593, top: 10, topY: 1233, ticks: [0, 2, 4, 6, 8, 10], barAt: [687, 828], baseline: [579, 926],
      fills: ["#f8d7da", "#f08a8c"], dotR: 9, openR: 8.5,
      bars: [
        { mean: surfacePosMean, sem: surfacePosSem, points: surfacePosPoints, offsets: surfacePosOffsets },
        { mean: surfaceNegMean, sem: surfaceNegSem, points: surfaceNegPoints, offsets: surfaceNegOffsets }
      ],
      bracket: [679, 828, 1550], stars: "***", starShift: 5, starDrop: 13,
      title: "Surface CTLA-4%", titleAt: [542, 1617], titleSize: 37
    });
    barPanel({
      axisX: 1033, top: 50, topY: 1182, ticks: [0, 10, 20, 30, 40, 50], barAt: [1126, 1267], baseline: [1018, 1354],
      fills: ["#fff", "#fff"], dotR: 10, openR: 9.5,
      bars: [
        { mean: pdPosMean, sem: pdPosSem, points: pdPosPoints, offsets: pdPosOffsets },
        { mean: pdNegMean, sem: pdNegSem, points: pdNegPoints, offsets: pdNegOffsets }
      ],
      bracket: [1126, 1267, 1459], stars: "****", starShift: 9, starDrop: 12,
      title: "PD-1%", titleAt: [960, 1510], titleSize: 37
    });

    // ---- strips
    panelTag(0, 1799, "D-2");
    panelTag(473, 1799, "E-2");
    panelTag(907, 1799, "F-2");

    stackPanel({
      box: [105, 1937, 322, 2037], shares: intraStack, fills: ["#ed2c2e", "#f8d5d8"], frame: 4,
      bracket: [145, 276], arrowColor: "#ed2024",
      leftArrow: [[270, 1733], [135, 1868], [135, 1929]],
      rightArrow: [[411, 1733], [287, 1858], [287, 1929]],
      leftLabel: [118, 1872], rightLabel: [266, 1868], leftText: "CD4^+Foxp3^+", angle: -43, labelSize: 38,
      labels: intraStackLabels, legendY: [2091, 2131], swatch: [98, 18], legendX: [124, 269]
    });
    stackPanel({
      box: [496, 1936, 708, 2038], shares: surfaceStack, fills: ["#f26a2c", "#fdd3b5"], frame: 3,
      bracket: [547, 678], arrowColor: "#ed2024",
      leftArrow: [[690, 1728], [530, 1885], [530, 1929]],
      rightArrow: [[833, 1728], [694, 1865], [694, 1929]],
      leftLabel: [520, 1882], rightLabel: [665, 1873], leftText: "CD4^+Foxp3^+", angle: -45, labelSize: 38,
      labels: surfaceStackLabels, legendY: [2088, 2123], swatch: [498, 15], legendX: [519, 664]
    });
    stackPanel({
      box: [929, 1937, 1147, 2037], shares: pdStack, fills: ["#43b649", "#bfe0bd"], frame: 6,
      bracket: [972, 1102], arrowColor: "#3fb54a",
      leftArrow: [[1125, 1730], [964, 1888], [964, 1929]],
      rightArrow: [[1260, 1735], [1124, 1867], [1124, 1929]],
      leftLabel: [945, 1895], rightLabel: [1103, 1876], leftText: "CD4^+ Foxp3^+", angle: -45, labelSize: 38.5,
      labels: pdStackLabels, legendY: [2090, 2124], swatch: [931, 16], legendX: [953, 1098]
    });
  </script>
</body>
</html>
